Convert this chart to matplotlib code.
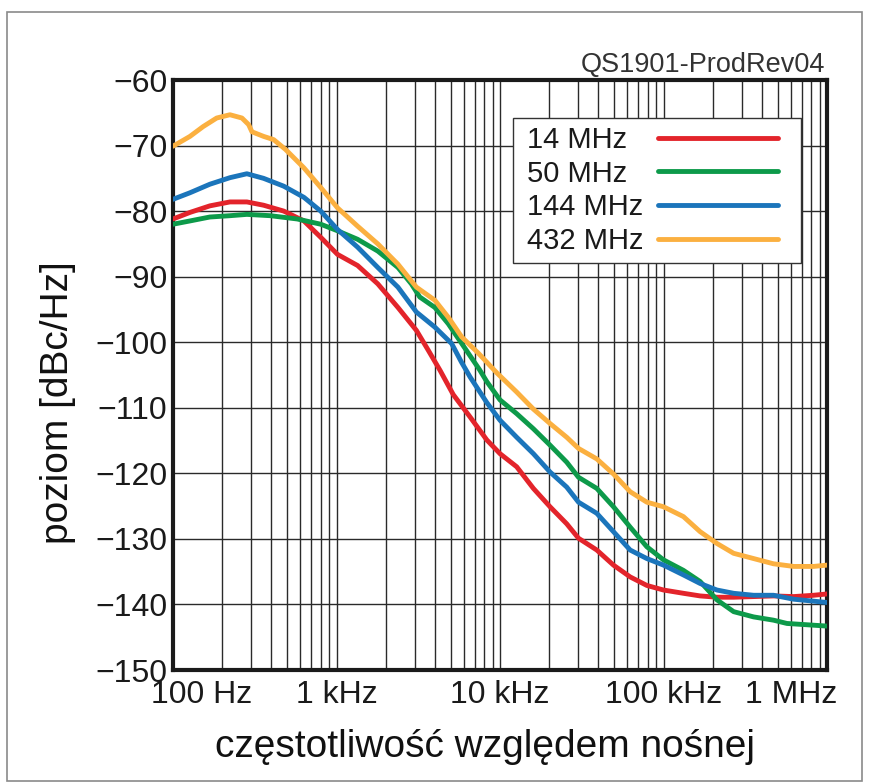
import matplotlib
matplotlib.use("Agg")
import matplotlib.pyplot as plt
import matplotlib.ticker as mticker
import matplotlib.transforms as mtransforms
from matplotlib.patches import Rectangle

plt.rcParams['font.family'] = ['Liberation Sans', 'DejaVu Sans']

# ---------------- data ----------------
f_14 = [100, 127, 168, 223, 283, 358, 476, 632, 801, 1014, 1346, 1789, 2376, 3081, 3636,
        4300, 5180, 6560, 8300, 10000, 12650, 16000, 20230, 25590, 30200, 39080, 49430,
        62520, 79070, 100000, 132400, 167500, 212300, 268500, 355600, 471000, 625200,
        827900, 1000000]
db_14 = [-81.2, -80.2, -79.2, -78.6, -78.6, -79.1, -80.0, -81.5, -84.0, -86.6, -88.3, -91.1,
         -94.7, -98.2, -101.2, -104.3, -108.0, -111.4, -114.9, -117.0, -119.0, -122.3, -125.1,
         -127.7, -129.9, -131.7, -134.0, -135.8, -137.1, -137.8, -138.3, -138.7, -138.9,
         -138.9, -138.8, -138.7, -138.8, -138.6, -138.4]

f_50 = [100, 127, 168, 223, 283, 394, 575, 801, 1014, 1346, 1789, 2376, 2870, 3230, 3996,
        4830, 5833, 7500, 8300, 10000, 12650, 16000, 20230, 25590, 30200, 39080, 49430,
        62520, 79070, 100000, 132400, 167500, 212300, 268500, 355600, 471000, 568900,
        755100, 1000000]
db_50 = [-82.0, -81.5, -80.9, -80.7, -80.5, -80.7, -81.2, -82.0, -83.0, -84.3, -86.1, -88.6,
         -91.1, -93.1, -94.7, -97.2, -100.2, -104.2, -106.0, -108.8, -110.9, -113.2, -115.7,
         -118.3, -120.6, -122.3, -125.1, -128.2, -131.2, -133.2, -134.8, -136.5, -139.3,
         -141.1, -141.9, -142.4, -142.9, -143.1, -143.3]

f_144 = [100, 127, 168, 223, 283, 358, 476, 632, 801, 1014, 1346, 1789, 2376, 3081, 3996,
         5058, 5800, 6560, 8300, 10000, 12650, 16000, 20230, 25590, 30200, 39080, 49430,
         62520, 79070, 100000, 132400, 167500, 212300, 268500, 355600, 471000, 625200,
         827900, 1000000]
db_144 = [-78.2, -77.2, -75.9, -74.9, -74.3, -75.0, -76.2, -77.9, -80.0, -82.8, -85.5, -88.6,
          -91.6, -95.4, -97.7, -100.2, -103.0, -105.3, -109.2, -111.9, -114.5, -117.0, -119.8,
          -122.1, -124.4, -126.1, -128.9, -131.7, -133.0, -134.0, -135.5, -136.8, -137.8,
          -138.3, -138.6, -138.6, -139.2, -139.5, -139.7]

f_432 = [100, 127, 153, 185, 223, 264, 290, 304, 358, 413, 488, 632, 801, 1014, 1346, 1789,
         2376, 3081, 3996, 4830, 5833, 7390, 9583, 12650, 16000, 20230, 25590, 30200, 39080,
         49430, 62520, 79070, 100000, 132400, 167500, 212300, 268500, 355600, 471000,
         625200, 827900, 1000000]
db_432 = [-70.1, -68.6, -67.1, -65.8, -65.3, -65.8, -66.8, -67.9, -68.6, -69.1, -70.6, -73.4,
          -76.4, -79.5, -82.3, -85.0, -88.1, -91.6, -93.6, -96.2, -99.2, -101.7, -104.7,
          -107.6, -110.2, -112.4, -114.5, -116.2, -117.8, -120.1, -122.8, -124.4, -125.1,
          -126.6, -128.9, -130.7, -132.2, -133.0, -133.8, -134.2, -134.2, -134.0]

series_labels = ['14 MHz', '50 MHz', '144 MHz', '432 MHz']
series_colors = ['#e3242b', '#0d9a4a', '#1b75bb', '#fbb040']

x_ticks = [100, 1000, 10000, 100000, 1000000]
x_tick_labels = ['100 Hz', '1 kHz', '10 kHz', '100 kHz', '1 MHz']
y_ticks = list(range(-150, -59, 10))

# ---------------- figure ----------------
W, H = 869, 783
fig = plt.figure(figsize=(W / 100, H / 100), dpi=100)
ax = fig.add_axes([173 / W, 1 - 670 / H, (827 - 173) / W, (670 - 80) / H])

# outer grey frame
fig.patches.append(Rectangle((7 / W, 1 - 781 / H), (862 - 7) / W, (781 - 12) / H,
                             transform=fig.transFigure, fill=False,
                             edgecolor='#8a8a8a', linewidth=1.2))

for fx, dy, lab, col in zip([f_14, f_50, f_144, f_432], [db_14, db_50, db_144, db_432],
                            series_labels, series_colors):
    ax.plot(fx, dy, color=col, linewidth=3.5, label=lab, solid_capstyle='round',
            solid_joinstyle='round', zorder=3)

ax.set_xscale('log')
ax.set_xlim(100, 1e6)
ax.set_ylim(-150, -60)

ax.xaxis.set_major_locator(mticker.FixedLocator(x_ticks))
ax.xaxis.set_minor_locator(mticker.LogLocator(base=10, subs=range(2, 10), numticks=20))
ax.xaxis.set_minor_formatter(mticker.NullFormatter())
ax.set_xticks(x_ticks)
ax.set_xticklabels(x_tick_labels)
ax.set_yticks(y_ticks)
ax.yaxis.set_major_formatter(mticker.FuncFormatter(lambda v, p: ('\u2212%d' % abs(v)) if v < 0 else '%d' % v))

ax.grid(True, which='both', axis='x', color='#2a2a2a', linewidth=1.0, zorder=1)
ax.grid(True, which='major', axis='y', color='#2a2a2a', linewidth=1.0, zorder=1)
ax.set_axisbelow(True)

ax.tick_params(axis='both', which='both', length=0, labelsize=23, colors='#1a1a1a')
ax.tick_params(axis='x', pad=7)
ax.tick_params(axis='y', pad=4)

for s in ax.spines.values():
    s.set_linewidth(3.0)
    s.set_color('#1a1a1a')

# shift edge x tick labels inward as in the reference
lbls = ax.get_xticklabels()
lbls[0].set_ha('left')
lbls[0].set_transform(lbls[0].get_transform() +
                      mtransforms.ScaledTranslation(-22 / 100, 0, fig.dpi_scale_trans))
lbls[-1].set_ha('right')
lbls[-1].set_transform(lbls[-1].get_transform() +
                       mtransforms.ScaledTranslation(10 / 100, 0, fig.dpi_scale_trans))

ax.set_ylabel('poziom [dBc/Hz]', fontsize=28, color='#111111')
ax.yaxis.label.set_va('center')
ax.yaxis.set_label_coords(-0.176, 0.454)
ax.set_xlabel('częstotliwość względem nośnej', fontsize=28, color='#111111')
ax.xaxis.label.set_va('center')
ax.xaxis.set_label_coords(0.477, -0.13)

fig.text(825 / W, 1 - 72 / H, 'QS1901-ProdRev04', ha='right', va='baseline',
         fontsize=19.5, color='#333333')

# legend frame (drawn separately so the padding matches the reference)
ax.add_patch(Rectangle((0.5199, 0.6898), 0.4404, 0.2458, transform=ax.transAxes,
                       facecolor='white', edgecolor='#333333', linewidth=1.0, zorder=4.5))

leg = ax.legend(loc='upper left', bbox_to_anchor=(0.5413, 0.9225), borderaxespad=0,
                fontsize=21, markerfirst=False, handlelength=4.1, handletextpad=0.5,
                labelspacing=0.2, borderpad=0.0, frameon=False)
for t in leg.get_texts():
    t.set_color('#1a1a1a')
leg.set_zorder(5)

# left-align legend texts while keeping the line samples on the right
fig.canvas.draw()
renderer = fig.canvas.get_renderer()
widths = [t.get_window_extent(renderer).width for t in leg.get_texts()]
maxw = max(widths)
for column in leg._legend_handle_box.get_children():
    for row, w in zip(column.get_children(), widths):
        row.sep = row.sep + (maxw - w) * 72.0 / fig.dpi

fig.savefig('out.png', dpi=100)
